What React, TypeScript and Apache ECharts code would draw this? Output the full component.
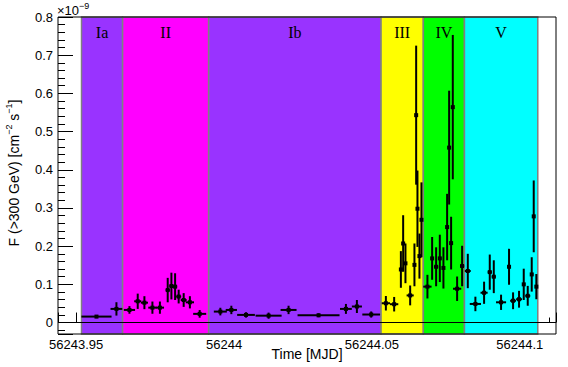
import React, { useEffect, useRef } from 'react';
import * as echarts from 'echarts';

// Time bins (MJD), half-widths (days), flux (1e-9 cm^-2 s^-1) and errors
const times = [
  56243.95686, 56243.96361, 56243.96801, 56243.97081, 56243.97307, 56243.97578, 56243.97831,
  56243.98095, 56243.9822, 56243.98345, 56243.98466, 56243.98635, 56243.98845, 56243.99176,
  56243.99875, 56244.00247, 56244.00743, 56244.01507, 56244.02182, 56244.03196, 56244.04122,
  56244.04493, 56244.04976, 56244.05473, 56244.05753, 56244.0598, 56244.06057, 56244.06135,
  56244.06294, 56244.06439, 56244.06497, 56244.06541, 56244.06608, 56244.06676, 56244.06878,
  56244.07037, 56244.07172, 56244.07297, 56244.07419, 56244.07544, 56244.07612, 56244.07679,
  56244.07736, 56244.07882, 56244.08051, 56244.08243, 56244.085, 56244.08794, 56244.08986,
  56244.09122, 56244.09368, 56244.09638, 56244.09774, 56244.09976, 56244.10135, 56244.1027,
  56244.10405, 56244.10473, 56244.10561,
];
const timeErrors = [
  0.0051, 0.002, 0.0019, 0.0012, 0.0012, 0.0014, 0.0014,
  0.0007, 0.0007, 0.0007, 0.00085, 0.001, 0.0014, 0.0022,
  0.0022, 0.0019, 0.003, 0.0044, 0.0027, 0.0071, 0.002,
  0.0017, 0.003, 0.0014, 0.0014, 0.0003, 0.0003, 0.0005,
  0.0012, 0.0003, 0.0003, 0.0003, 0.0003, 0.0003, 0.0014,
  0.0003, 0.0007, 0.0005, 0.0005, 0.0003, 0.0003, 0.0003,
  0.0003, 0.0014, 0.0007, 0.001, 0.0019, 0.0012, 0.0007,
  0.0007, 0.0017, 0.0005, 0.001, 0.001, 0.0005, 0.00085,
  0.0005, 0.0003, 0.0003,
];
const fluxValues = [
  0.0156, 0.0357, 0.033, 0.0557, 0.052, 0.039, 0.039,
  0.085, 0.0956, 0.094, 0.068, 0.059, 0.053, 0.0227,
  0.0287, 0.033, 0.02, 0.018, 0.033, 0.019, 0.0357,
  0.042, 0.021, 0.0505, 0.048, 0.139, 0.207, 0.155,
  0.071, 0.151, 0.543, 0.298, 0.174, 0.269, 0.094,
  0.168, 0.146, 0.168, 0.143, 0.25, 0.458, 0.208,
  0.564, 0.0885, 0.148, 0.135, 0.0487, 0.078, 0.132,
  0.12, 0.053, 0.146, 0.057, 0.061, 0.1, 0.07,
  0.126, 0.278, 0.094,
];
const fluxErrors = [
  0.004, 0.0175, 0.01, 0.02, 0.017, 0.016, 0.016,
  0.032, 0.035, 0.035, 0.018, 0.018, 0.016, 0.01,
  0.01, 0.011, 0.007, 0.008, 0.011, 0.005, 0.013,
  0.017, 0.008, 0.019, 0.019, 0.048, 0.074, 0.052,
  0.026, 0.056, 0.182, 0.1, 0.059, 0.098, 0.031,
  0.056, 0.051, 0.062, 0.054, 0.087, 0.149, 0.069,
  0.189, 0.032, 0.053, 0.045, 0.019, 0.029, 0.046,
  0.043, 0.02, 0.047, 0.022, 0.022, 0.041, 0.026,
  0.045, 0.094, 0.033,
];

// Activity periods
const bandNames = ['Ia', 'II', 'Ib', 'III', 'IV', 'V'];
const bandStarts = [56243.9518, 56243.9657, 56243.9948, 56244.0531, 56244.0674, 56244.0813];
const bandEnds = [56243.9657, 56243.9948, 56244.0531, 56244.0674, 56244.0813, 56244.1061];

// Axis ranges
const xMin = 56243.94385;
const xMax = 56244.11226;
const yMin = -0.03;
const yMax = 0.8;

// Styles
const bandColors = ['#9933ff', '#ff00ff', '#9933ff', '#ffff00', '#00ff00', '#00ffff'];
const SANS = '"Liberation Sans", Arial, Helvetica, sans-serif';
const SERIF = '"Liberation Serif", "Times New Roman", serif';

export default function App() {
  const ref = useRef<HTMLDivElement>(null);

  useEffect(() => {
    if (!ref.current) return;
    const chart = echarts.init(ref.current, null, { renderer: 'svg' });

    const points = times.map((t, i) => [t, fluxValues[i], timeErrors[i], fluxErrors[i]]);
    const bands = bandNames.map((_, i) => [bandStarts[i], bandEnds[i], 0]);

    chart.setOption({
      animation: false,
      backgroundColor: '#ffffff',
      grid: {
        left: 58,
        right: 12,
        top: 17,
        bottom: 33,
        show: true,
        borderColor: '#000',
        borderWidth: 1,
        backgroundColor: 'transparent',
        z: 10,
        containLabel: false,
        outerBoundsMode: 'none',
      },
      xAxis: {
        type: 'value',
        min: xMin,
        max: xMax,
        splitNumber: 3,
        name: 'Time [MJD]',
        nameLocation: 'middle',
        nameGap: 13,
        nameMoveOverlap: false,
        nameTextStyle: { color: '#000', fontSize: 14, fontFamily: SANS, verticalAlign: 'top' },
        axisLine: { show: false },
        axisTick: { show: true, inside: true, length: 10, lineStyle: { color: '#000', width: 1 } },
        minorTick: { show: true, splitNumber: 5, length: 5, lineStyle: { color: '#000', width: 1 } },
        splitLine: { show: false },
        minorSplitLine: { show: false },
        axisLabel: {
          showMinLabel: false,
          showMaxLabel: false,
          margin: 4,
          color: '#000',
          fontSize: 13,
          fontFamily: SANS,
          formatter: (v: number) => String(Math.round(v * 100) / 100),
        },
      },
      yAxis: {
        type: 'value',
        min: yMin,
        max: yMax,
        splitNumber: 8,
        axisLine: { show: false },
        axisTick: { show: true, inside: true, length: 15, lineStyle: { color: '#000', width: 1 } },
        minorTick: { show: true, splitNumber: 5, length: 7, lineStyle: { color: '#000', width: 1 } },
        splitLine: { show: false },
        minorSplitLine: { show: false },
        axisLabel: {
          showMinLabel: false,
          margin: 5,
          color: '#000',
          fontSize: 13,
          fontFamily: SANS,
          formatter: (v: number) => String(Math.round(v * 10) / 10),
        },
      },
      graphic: [
        {
          type: 'text',
          x: 14,
          y: 173,
          rotation: Math.PI / 2,
          z: 20,
          style: {
            text: '{n|F (>300 GeV) [cm}{s|−2}{n| s}{s|−1}{n|]}',
            align: 'center',
            verticalAlign: 'middle',
            fill: '#000',
            rich: {
              n: { fontSize: 14, fontFamily: SANS, lineHeight: 20, fill: '#000' },
              s: { fontSize: 9, fontFamily: SANS, lineHeight: 9, verticalAlign: 'top', fill: '#000' },
            },
          },
        },
        {
          type: 'text',
          x: 57,
          y: 10,
          z: 20,
          style: {
            text: '{a|×10}{b|−9}',
            align: 'left',
            verticalAlign: 'middle',
            fill: '#000',
            rich: {
              a: { fontSize: 13, fontFamily: SANS, lineHeight: 18, fill: '#000' },
              b: { fontSize: 9, fontFamily: SANS, lineHeight: 9, verticalAlign: 'top', fill: '#000' },
            },
          },
        },
      ],
      series: [
        {
          type: 'custom',
          name: 'bands',
          z: 1,
          silent: true,
          encode: { x: [0, 1], y: 2 },
          data: bands,
          renderItem: (params: any, api: any) => {
            const idx = params.dataIndex;
            const cs = params.coordSys;
            const x0 = api.coord([api.value(0), 0])[0];
            const x1 = api.coord([api.value(1), 0])[0];
            return {
              type: 'group',
              children: [
                {
                  type: 'rect',
                  shape: { x: x0, y: cs.y, width: x1 - x0, height: cs.height },
                  style: { fill: bandColors[idx], stroke: '#808080', lineWidth: 1.5 },
                },
                {
                  type: 'text',
                  x: (x0 + x1) / 2,
                  y: cs.y + 15,
                  style: {
                    text: bandNames[idx],
                    fill: '#000',
                    fontSize: 16,
                    fontFamily: SERIF,
                    align: 'center',
                    verticalAlign: 'middle',
                  },
                },
              ],
            };
          },
        },
        {
          type: 'custom',
          name: 'flux',
          z: 3,
          silent: true,
          encode: { x: 0, y: 1 },
          data: points,
          renderItem: (params: any, api: any) => {
            const x = api.value(0);
            const y = api.value(1);
            const xe = api.value(2);
            const ye = api.value(3);
            const c = api.coord([x, y]);
            const l = api.coord([x - xe, y]);
            const r = api.coord([x + xe, y]);
            const t = api.coord([x, y + ye]);
            const b = api.coord([x, y - ye]);
            return {
              type: 'group',
              children: [
                {
                  type: 'line',
                  shape: { x1: l[0], y1: c[1], x2: r[0], y2: c[1] },
                  style: { stroke: '#000', lineWidth: 2 },
                },
                {
                  type: 'line',
                  shape: { x1: c[0], y1: t[1], x2: c[0], y2: b[1] },
                  style: { stroke: '#000', lineWidth: 2 },
                },
                {
                  type: 'rect',
                  shape: { x: c[0] - 2, y: c[1] - 2, width: 4, height: 4 },
                  style: { fill: '#000' },
                },
              ],
            };
          },
          markLine: {
            silent: true,
            symbol: 'none',
            data: [{ yAxis: 0 }],
            lineStyle: { color: '#000', width: 1, type: 'solid' },
            label: { show: false },
          },
        },
      ],
    });

    return () => chart.dispose();
  }, []);

  return (
    <div
      ref={ref}
      style={{ position: 'fixed', left: 0, top: 0, width: 568, height: 367, background: '#fff' }}
    />
  );
}
